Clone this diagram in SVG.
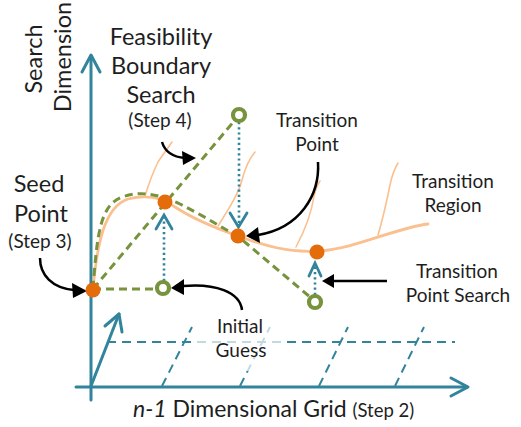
<svg xmlns="http://www.w3.org/2000/svg" width="521" height="427" viewBox="0 0 521 427">
<style>
.axis{stroke:#31849b;stroke-width:3;fill:none;stroke-linecap:round;stroke-linejoin:round}
.grid{stroke:#31849b;stroke-width:2;fill:none;stroke-dasharray:9,6}
.orange{stroke:#fac090;stroke-width:2.8;fill:none;stroke-linecap:round}
.branch{stroke:#fac090;stroke-width:1.6;fill:none;stroke-linecap:round}
.green{stroke:#77933c;stroke-width:3;fill:none;stroke-dasharray:8,5}
.dot{fill:#e46c0a}
.ring{fill:#fff;stroke:#77933c;stroke-width:4.2}
.dotted{stroke:#31849b;stroke-width:2.6;fill:none;stroke-dasharray:2.2,3}
.chev{stroke:#31849b;stroke-width:2.8;fill:none;stroke-linecap:round;stroke-linejoin:miter}
.blk{stroke:#000;stroke-width:2.5;fill:none}
.head{fill:#000}
text{font-family:Lato,"Open Sans","Liberation Sans",sans-serif;fill:#1e1e1e;text-anchor:middle}
.big{font-size:23.5px}
.med{font-size:19px}
</style>
<rect width="521" height="427" fill="#fff"/>
<g id="axes">
<path class="axis" d="M91,400 L91,56"/>
<polyline class="axis" points="82,72 91,55 100,72"/>
<path class="axis" d="M76,387 L467,387"/>
<polyline class="axis" points="451,378 468,387 451,396"/>
<path class="axis" d="M91,386 L119,314"/>
<polyline class="axis" points="105,326 119,314 122,332"/>
</g>
<g id="grid">
<path class="grid" d="M107,342 L455,342"/>
<path class="grid" d="M162,386 L192,327"/>
<path class="grid" d="M240,386 L270,327"/>
<path class="grid" d="M319,386 L348,327"/>
<path class="grid" d="M395,386 L424,327"/>
</g>
<g id="transition-region">
<path class="orange" d="M93,289 C97,245 104,207 128,199 C148,194 162,198 175,207 C195,220 215,228 238,236 C265,246 290,253 318,251 C355,249 395,228 428,224"/>
<path class="branch" d="M145,196 C150,180 154,170 158,162 C163,154 168,148 172,142"/>
<path class="branch" d="M218,226 C228,210 238,195 242,180 C245,168 250,158 255,152"/>
<path class="branch" d="M296,247 C305,230 312,210 314,196 C316,188 318,184 320,181"/>
<path class="branch" d="M378,235 C384,215 388,195 390,185 C392,175 395,168 398,163"/>
</g>
<g id="connectors">
<path class="green" d="M93,289 L157,289"/>
<path class="green" d="M93,289 L235,120"/>
<path class="green" d="M93,289 C97,235 100,205 122,197 C142,190 160,195 180,204 C200,214 220,226 240,238 L310,297"/>
<path class="dotted" d="M164,281 L164,218"/>
<polyline class="chev" points="156,229 164,215 172,229"/>
<path class="dotted" d="M239,122 L239,225"/>
<polyline class="chev" points="230,213 238.5,227 247,213"/>
<path class="dotted" d="M315,295 L315,265"/>
<polyline class="chev" points="309,276 315,263 321,276"/>
<path class="blk" d="M162,142 C165,152 172,157 185,158"/>
<polygon class="head" points="182,151 196,158 183,165"/>
<path class="blk" d="M318,162 C320,195 300,228 258,235"/>
<polygon class="head" points="258,227 246,236 260,243"/>
<path class="blk" d="M40,258 C40,275 52,288 74,290"/>
<polygon class="head" points="72,283 87,291 73,298"/>
<path class="blk" d="M242,310 C240,292 215,283 183,286"/>
<polygon class="head" points="184,279 171,288 184,295"/>
<path class="blk" d="M387,281 L333,281"/>
<polygon class="head" points="334,274 322,281 334,288"/>
</g>
<g id="seed-point"><circle class="dot" cx="93" cy="290" r="7.5"/></g>
<g id="boundary-point"><circle class="dot" cx="165" cy="202" r="7.5"/></g>
<g id="transition-point"><circle class="dot" cx="238" cy="236" r="7.5"/></g>
<g id="transition-point-2"><circle class="dot" cx="317" cy="252" r="7.5"/></g>
<g id="initial-guess-ring"><circle class="ring" cx="163" cy="288" r="6"/></g>
<g id="search-ring-top"><circle class="ring" cx="239" cy="115" r="6"/></g>
<g id="search-ring-low"><circle class="ring" cx="315" cy="302" r="6"/></g>
<g id="label-search-dim">
<text class="big" transform="translate(42,59) rotate(-90)">Search</text>
<text class="big" transform="translate(71,57) rotate(-90)">Dimension</text>
</g>
<g id="label-feasibility">
<text class="big" x="161" y="45">Feasibility</text>
<text class="big" x="161" y="74">Boundary</text>
<text class="big" x="161" y="103">Search</text>
<text class="med" x="160" y="127">(Step 4)</text>
</g>
<g id="label-transition-point">
<text class="med" x="317" y="127">Transition</text>
<text class="med" x="317" y="151">Point</text>
</g>
<g id="label-transition-region">
<text class="med" x="453" y="188">Transition</text>
<text class="med" x="453" y="212">Region</text>
</g>
<g id="label-transition-search">
<text class="med" x="457" y="278">Transition</text>
<text class="med" x="458" y="302">Point Search</text>
</g>
<g id="label-seed">
<text class="big" x="39" y="192">Seed</text>
<text class="big" x="41" y="222">Point</text>
<text class="med" x="40" y="248">(Step 3)</text>
</g>
<g id="label-initial-guess">
<rect x="196" y="315" width="88" height="56" fill="#fff" fill-opacity="0.7"/>
<text class="med" x="240" y="333">Initial</text>
<text class="med" x="241" y="357">Guess</text>
</g>
<g id="label-grid">
<text x="133" y="417" style="text-anchor:start;font-size:23px"><tspan font-style="italic">n-1</tspan> Dimensional Grid <tspan style="font-size:18.5px">(Step 2)</tspan></text>
</g>
</svg>
